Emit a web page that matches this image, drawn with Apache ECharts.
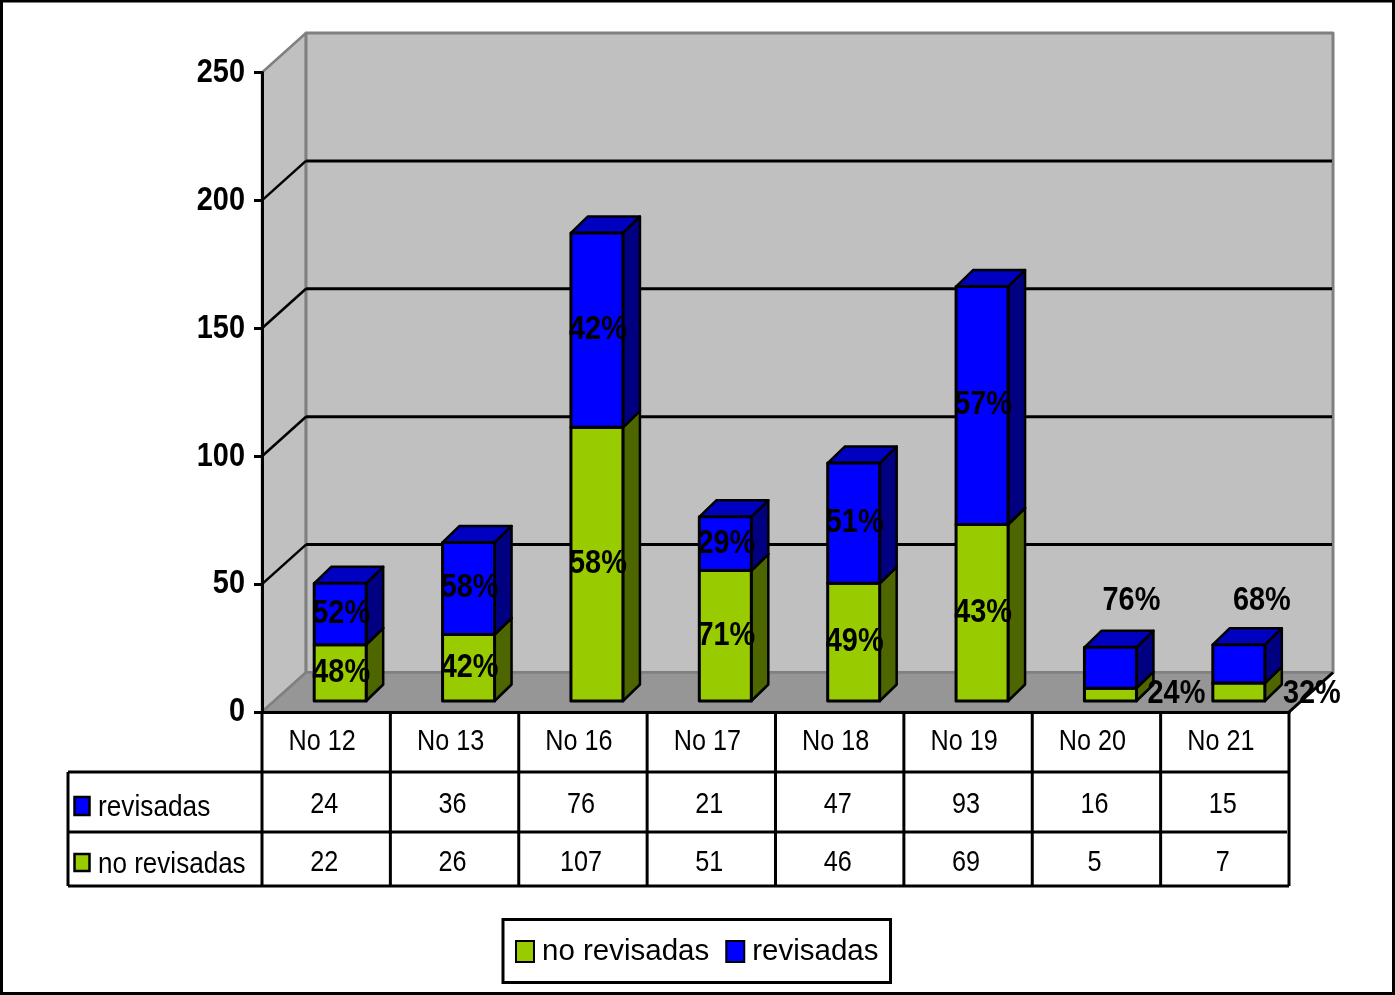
<!DOCTYPE html>
<html>
<head>
<meta charset="utf-8">
<style>html,body{margin:0;padding:0;background:#fff}#c{width:1395px;height:995px}</style>
<script src="https://cdn.jsdelivr.net/npm/echarts@6/dist/echarts.min.js"></script>
</head>
<body>
<div id="c"></div>
<script>
const categories = ['No 12','No 13','No 16','No 17','No 18','No 19','No 20','No 21'];
const revisadas = [24,36,76,21,47,93,16,15];
const noRevisadas = [22,26,107,51,46,69,5,7];
const pctRevisadas = [52,58,42,29,51,57,76,68];
const pctNoRevisadas = [48,42,58,71,49,43,24,32];
const yTicks = [0,50,100,150,200,250];

const FONT = '"Liberation Sans",Arial,sans-serif';
const WALL = {dx:44, dy:-39.5};          // back wall offset from the front plane
const BAR = {dx:14, dy:-11, w:52, ddx:17, ddy:-16.5};
// labels dragged away from their bars in the original chart
const labelShiftRev = {6:[20,-67], 7:[22,-63]};
const labelShiftNo = {6:[65,0], 7:[72,2]};

const poly = (pts, fill, stroke, lw) => ({type:'polygon', shape:{points:pts},
  style:{fill:fill, stroke:stroke, lineWidth:lw, lineJoin:'round'}});
const line = (x1,y1,x2,y2,stroke,lw) => ({type:'line', shape:{x1,y1,x2,y2},
  style:{stroke:stroke, lineWidth:lw}});
const text = (t,x,y,font,align,sx) => ({type:'text', x:x, y:y, scaleX:sx||1, scaleY:1,
  style:{text:String(t), x:0, y:0, font:font, fill:'#000', align:align||'center', verticalAlign:'middle'}});

function renderWalls(params, api){
  const c = params.coordSys, x0=c.x, x1=c.x+c.width;
  const yOf = v => api.coord([0,v])[1];
  const y0=yOf(0), yT=yOf(250), d=WALL;
  const kids = [
    poly([[x0,y0],[x0+d.dx,y0+d.dy],[x0+d.dx,yT+d.dy],[x0,yT]], '#c0c0c0', '#808080', 2.5),
    poly([[x0+d.dx,y0+d.dy],[x1+d.dx,y0+d.dy],[x1+d.dx,yT+d.dy],[x0+d.dx,yT+d.dy]], '#c0c0c0', '#808080', 3),
    poly([[x0,y0],[x0+d.dx,y0+d.dy],[x1+d.dx,y0+d.dy],[x1,y0]], '#969696', '#808080', 2.5)
  ];
  yTicks.forEach(v=>{
    const y=yOf(v);
    kids.push(text(v, x0-17, y, 'bold 34px '+FONT, 'right', 0.85));
    if(v>0&&v<250){
      kids.push(line(x0,y,x0+d.dx,y+d.dy,'#000',2.5));
      kids.push(line(x0+d.dx,y+d.dy,x1+d.dx-1,y+d.dy,'#000',3));
    }
  });
  kids.push(line(x1,y0,x1+d.dx,y0+d.dy,'#000',3));
  return {type:'group', children:kids};
}

function barRenderer(front, top, side, pct, shift){
  return function(params, api){
    const i=api.value(0), v=api.value(1), b=api.value(2);
    const pLow=api.coord([i,b]), pHigh=api.coord([i,b+v]);
    const l=pLow[0]+BAR.dx-BAR.w/2, r=l+BAR.w;
    const yb=pLow[1]+BAR.dy, yt=pHigh[1]+BAR.dy;
    const dx=BAR.ddx, dy=BAR.ddy;
    const s=shift[i]||[0,0];
    return {type:'group', children:[
      poly([[r,yb],[r+dx,yb+dy],[r+dx,yt+dy],[r,yt]], side, '#000', 2.5),
      poly([[l,yt],[l+dx,yt+dy],[r+dx,yt+dy],[r,yt]], top, '#000', 2.5),
      poly([[l,yb],[r,yb],[r,yt],[l,yt]], front, '#000', 3),
      text(pct[i]+'%', (l+r)/2+1+s[0], (yb+yt)/2-0.5+s[1], 'bold 34px '+FONT, 'center', 0.85)
    ]};
  };
}

function renderTable(params, api){
  const c=params.coordSys, x0=c.x, x1=c.x+c.width, n=categories.length;
  const y0=c.y+c.height, r1=y0+60, r2=y0+120, r3=y0+174, left=68;
  const kids=[line(left,r1,x1,r1,'#000',3), line(left,r2,x1-2,r2,'#000',3), line(left,r3,x1,r3,'#000',3),
    line(left,r1,left,r3,'#000',3), line(x0,y0,x0,r3,'#000',3)];
  categories.forEach((cat,i)=>{
    const e=x0+(i+1)*c.width/n, cx=api.coord([i,0])[0]-2;
    kids.push(line(e,y0,e,r3,'#000',3));
    kids.push(text(cat,cx-2,y0+30,'30px '+FONT,'center',0.84));
    kids.push(text(revisadas[i],cx,y0+93,'30px '+FONT,'center',0.84));
    kids.push(text(noRevisadas[i],cx,y0+151,'30px '+FONT,'center',0.84));
  });
  kids.push({type:'rect',shape:{x:74.5,y:y0+85,width:15,height:18},style:{fill:'#0000ff',stroke:'#000',lineWidth:2.5}});
  kids.push({type:'rect',shape:{x:74.5,y:y0+142,width:15,height:17},style:{fill:'#99cc00',stroke:'#000',lineWidth:2.5}});
  kids.push(text('revisadas',98,y0+96,'30px '+FONT,'left',0.875));
  kids.push(text('no revisadas',98,y0+153,'30px '+FONT,'left',0.868));
  return {type:'group', children:kids};
}

const baseOfRev = noRevisadas;
const option = {
  animation:false,
  backgroundColor:'#fff',
  graphic:[{type:'rect',z:100,silent:true,shape:{x:1.5,y:1,width:1392,height:992.5},
    style:{fill:'none',stroke:'#000',lineWidth:3}}],
  grid:{left:262,right:106,top:72.5,bottom:283},
  legend:{
    data:['no revisadas','revisadas'], left:503, top:919.5,
    orient:'horizontal', backgroundColor:'#fff', borderColor:'#000', borderWidth:3,
    padding:[17,12,16,12], itemWidth:18, itemHeight:21, itemGap:16,
    icon:'rect', textStyle:{fontFamily:FONT,fontSize:29.5,color:'#000',padding:[2,0,0,3]},
    selectedMode:false
  },
  tooltip:{show:false},
  xAxis:{type:'category',data:categories,z:6,
    axisLine:{show:true,lineStyle:{color:'#000',width:3}},
    axisTick:{show:false},splitLine:{show:false},axisLabel:{show:false}},
  yAxis:{type:'value',min:0,max:250,interval:50,z:6,
    axisLine:{show:true,lineStyle:{color:'#000',width:3}},
    axisTick:{show:true,length:8,lineStyle:{color:'#000',width:3}},
    splitLine:{show:false},axisLabel:{show:false}},
  series:[
    {type:'custom',name:'walls',silent:true,z:1,renderItem:renderWalls,data:[[0,0]],clip:false},
    {type:'custom',name:'no revisadas',z:3,clip:false,
      renderItem:barRenderer('#99cc00','#739900','#4d6600',pctNoRevisadas,labelShiftNo),
      itemStyle:{color:'#99cc00',borderColor:'#000',borderWidth:3},
      encode:{x:0,y:1},
      data:noRevisadas.map((v,i)=>[i,v,0])},
    {type:'custom',name:'revisadas',z:4,clip:false,
      renderItem:barRenderer('#0000ff','#0000c0','#000080',pctRevisadas,labelShiftRev),
      itemStyle:{color:'#0000ff',borderColor:'#000',borderWidth:3},
      encode:{x:0,y:1},
      data:revisadas.map((v,i)=>[i,v,baseOfRev[i]])},
    {type:'custom',name:'table',silent:true,z:5,clip:false,renderItem:renderTable,data:[[0,0]]}
  ]
};
const chart = echarts.init(document.getElementById('c'),null,{renderer:'canvas',width:1395,height:995});
chart.setOption(option);
</script>
</body>
</html>
